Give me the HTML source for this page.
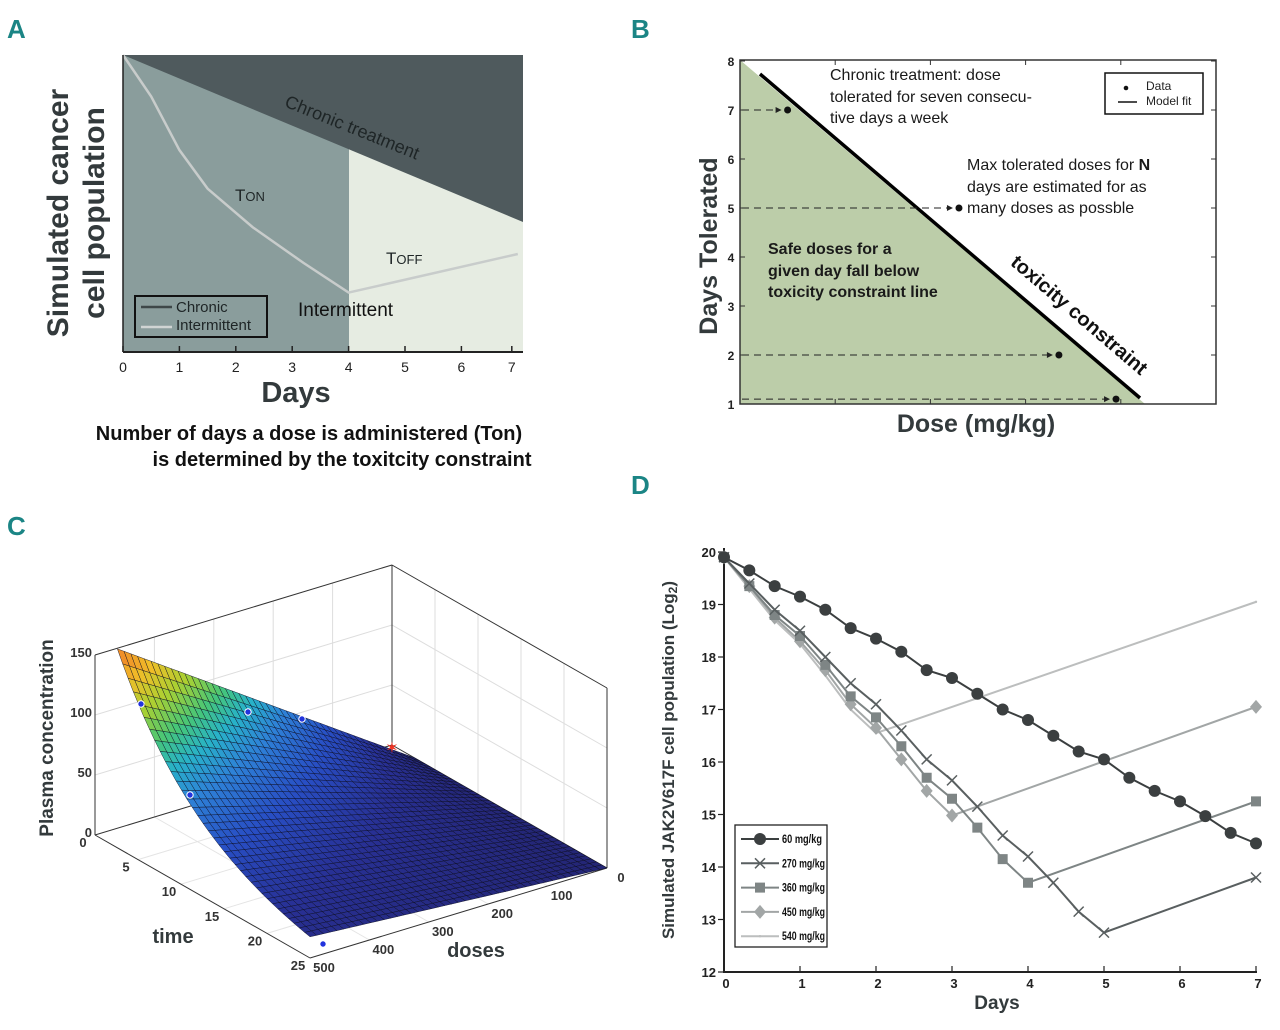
<!DOCTYPE html>
<html><head><meta charset="utf-8"><style>
html,body{margin:0;padding:0;background:#fff;}
svg{display:block;font-family:"Liberation Sans",sans-serif;}
.pl{font-family:"Liberation Sans Narrow","Liberation Sans",sans-serif;font-weight:bold;fill:#1b8585;font-size:26px;}
</style></head><body>
<svg id="fig" width="1280" height="1030" viewBox="0 0 1280 1030">
<text class="pl" x="7" y="38">A</text>
<text class="pl" x="631" y="38">B</text>
<text class="pl" x="7" y="535">C</text>
<text class="pl" x="631" y="494">D</text>

<!-- PANEL A -->
<g id="panelA">
  <rect x="123" y="55" width="400" height="297" fill="#8a9d9c"/>
  <rect x="349" y="55" width="174" height="297" fill="#e6ece2"/>
  <polygon points="123,55 523,55 523,222" fill="#4f5a5d"/>
  <polyline id="intermittentLine" fill="none" stroke="#c8cccb" stroke-width="2.5"/>
  <line x1="123" y1="352" x2="523" y2="352" stroke="#222" stroke-width="2"/>
  <line x1="123" y1="55" x2="123" y2="352" stroke="#222" stroke-width="1.5"/>
  <g id="aTicks"></g>
  <text transform="translate(350,133) rotate(22)" text-anchor="middle" font-size="18" fill="#1e2526">Chronic treatment</text>
  <text x="235" y="201" font-size="17" fill="#1e2526">T<tspan font-size="13">ON</tspan></text>
  <text x="386" y="264" font-size="17" fill="#1e2526">T<tspan font-size="13">OFF</tspan></text>
  <text x="298" y="316" font-size="19" fill="#111">Intermittent</text>
  <rect x="135" y="296" width="132" height="41" fill="none" stroke="#111" stroke-width="2"/>
  <line x1="141" y1="307" x2="172" y2="307" stroke="#3e4748" stroke-width="2.5"/>
  <text x="176" y="312" font-size="15" fill="#1e2526">Chronic</text>
  <line x1="141" y1="327" x2="172" y2="327" stroke="#d0d4d3" stroke-width="2.5"/>
  <text x="176" y="330" font-size="15" fill="#1e2526">Intermittent</text>
  <text transform="translate(68,213) rotate(-90)" text-anchor="middle" font-size="30" font-weight="bold" fill="#333a3c">Simulated cancer</text>
  <text transform="translate(104,213) rotate(-90)" text-anchor="middle" font-size="30" font-weight="bold" fill="#333a3c">cell population</text>
  <text x="296" y="402" text-anchor="middle" font-size="29" font-weight="bold" fill="#333a3c">Days</text>
  <text x="309" y="440" text-anchor="middle" font-size="20" font-weight="bold" fill="#111">Number of days a dose is administered (Ton)</text>
  <text x="342" y="466" text-anchor="middle" font-size="20" font-weight="bold" fill="#111">is determined by the toxitcity constraint</text>
</g>

<!-- PANEL B -->
<g id="panelB">
  <polygon points="740,60 740,404 1145,404" fill="#bccda9"/>
  <rect x="740" y="60" width="476" height="344" fill="none" stroke="#333" stroke-width="1.5"/>
  <g id="bTicks"></g>
  <line x1="760" y1="74" x2="1140" y2="398" stroke="#000" stroke-width="3.5"/>
  <g id="bPoints"></g>
  <rect x="1105" y="73" width="98" height="41" fill="#fff" stroke="#111" stroke-width="1.5"/>
  <circle cx="1126" cy="88" r="2.3" fill="#111"/>
  <text x="1146" y="90" font-size="12" fill="#222">Data</text>
  <line x1="1118" y1="102" x2="1137" y2="102" stroke="#111" stroke-width="1.5"/>
  <text x="1146" y="105" font-size="12" fill="#222">Model fit</text>
  <g font-size="16" fill="#1a1a1a">
    <text x="830" y="80">Chronic treatment: dose</text>
    <text x="830" y="102">tolerated for seven consecu-</text>
    <text x="830" y="123">tive days a week</text>
  </g>
  <g font-size="16" fill="#1a1a1a">
    <text x="967" y="170">Max tolerated doses for <tspan font-weight="bold">N</tspan></text>
    <text x="967" y="192">days are estimated for as</text>
    <text x="967" y="213">many doses as possble</text>
  </g>
  <g font-size="16" font-weight="bold" fill="#1a1a1a">
    <text x="768" y="254">Safe doses for a</text>
    <text x="768" y="276">given day fall below</text>
    <text x="768" y="297">toxicity constraint line</text>
  </g>
  <text transform="translate(1075,320) rotate(40.5)" text-anchor="middle" font-size="20" font-weight="bold" fill="#111">toxicity constraint</text>
  <text transform="translate(717,246) rotate(-90)" text-anchor="middle" font-size="25" font-weight="bold" fill="#333a3c">Days Tolerated</text>
  <text x="976" y="432" text-anchor="middle" font-size="25" font-weight="bold" fill="#333a3c">Dose (mg/kg)</text>
</g>

<!-- PANEL C -->
<g id="panelC">
  <g id="cBox" stroke="#333" stroke-width="1" fill="none"></g>
  <g id="cSurface"></g>
  <g id="cMarks"></g>
  <g id="cTicks" font-size="13" font-weight="bold" fill="#333"></g>
  <text transform="translate(53,738) rotate(-90)" text-anchor="middle" font-size="19" font-weight="bold" fill="#333a3c">Plasma concentration</text>
  <text x="173" y="943" text-anchor="middle" font-size="20" font-weight="bold" fill="#333a3c">time</text>
  <text x="476" y="957" text-anchor="middle" font-size="20" font-weight="bold" fill="#333a3c">doses</text>
</g>

<!-- PANEL D -->
<g id="panelD">
  <g id="dAxes"></g>
  <g id="dSeries"></g>
  <g id="dLegend"></g>
  <text transform="translate(674,760) rotate(-90)" text-anchor="middle" font-size="17" font-weight="bold" fill="#333a3c">Simulated JAK2V617F cell population (Log<tspan font-size="12" dy="3">2</tspan><tspan dy="-3">)</tspan></text>
  <text x="997" y="1009" text-anchor="middle" font-size="19" font-weight="bold" fill="#333a3c">Days</text>
</g>
</svg>
<script>
const NS='http://www.w3.org/2000/svg';
function mk(tag,attrs,parent){const e=document.createElementNS(NS,tag);for(const k in attrs)e.setAttribute(k,attrs[k]);if(parent)parent.appendChild(e);return e;}

/* ---------- Panel A data ---------- */
const aDays=[0,0.5,1,1.5,2.3,3.2,4,7];
const aIntermittent=[100,86,68,55,42,30,20,33];
const aTickLabels=['0','1','2','3','4','5','6','7'];
function axA(d){return 123+d*56.4;}
function ayA(v){return 352-v*2.97;}
(function(){
  const pts=aDays.map((d,i)=>axA(d)+','+ayA(aIntermittent[i])).join(' ');
  document.getElementById('intermittentLine').setAttribute('points',pts);
  const g=document.getElementById('aTicks');
  aTickLabels.forEach((t,i)=>{
    const x=axA(i)-(i==7?6:0);
    const l=mk('line',{x1:x,y1:352,x2:x,y2:346,stroke:'#222','stroke-width':1.5},g);
    
    
    const tx=mk('text',{x:x,y:372,'text-anchor':'middle','font-size':14,fill:'#222'},g);
    tx.textContent=t;
    
    
  });
})();

/* ---------- Panel B data ---------- */
const bYTicks=[1,2,3,4,5,6,7,8];
const bPointDays=[7,5,2,1.1];
const bPointDose=[0.1,0.46,0.67,0.79];
function byB(v){return 404-(v-1)*49;}
function bxB(f){return 740+f*476;}
(function(){
  const g=document.getElementById('bTicks');
  bYTicks.forEach(v=>{
    const y=byB(v);
    const t=mk('text',{x:731,y:y+5,'text-anchor':'middle','font-size':12,'font-weight':'bold',fill:'#222'},g);
    t.textContent=v;
    
    
    const l1=mk('line',{x1:740,y1:y,x2:745,y2:y,stroke:'#333'},g);
    
    
    const l2=mk('line',{x1:1211,y1:y,x2:1216,y2:y,stroke:'#333'},g);
    
    
  });
  [0.2,0.4,0.6,0.8].forEach(f=>{
    const x=bxB(f);
    const l=mk('line',{x1:x,y1:404,x2:x,y2:399,stroke:'#333'},g);
    
    
    const l2=mk('line',{x1:x,y1:60,x2:x,y2:65,stroke:'#333'},g);
    
    
  });
  const p=document.getElementById('bPoints');
  bPointDays.forEach((d,i)=>{
    const x=bxB(bPointDose[i]),y=byB(d);
    const l=mk('line',{x1:742,y1:y,x2:x-8,y2:y,stroke:'#222','stroke-width':1,'stroke-dasharray':'7,5'},p);
    
    
    const a=mk('polygon',{points:(x-6)+','+y+' '+(x-12)+','+(y-3)+' '+(x-12)+','+(y+3),fill:'#222'},p);
    
    
    const c=mk('circle',{cx:x,cy:y,r:3.5,fill:'#111'},p);
    
    
  });
})();

/* ---------- Panel C data ---------- */
const cZTicks=[0,50,100,150];
const cTimeTicks=[0,5,10,15,20,25];
const cDoseTicks=[0,100,200,300,400,500];
const cPeak=[215];
const cDecay=[0.1];
function projC(t,d,z){return [95+t*8.6+(500-d)*0.594, 835+t*4.92-(500-d)*0.18-z*1.2];}
function concC(t,d){return cPeak[0]*Math.exp(-cDecay[0]*t)*d/500;}
const parula=[[0,[36,38,118]],[0.15,[40,48,148]],[0.3,[40,78,196]],[0.45,[46,130,215]],[0.56,[40,178,200]],[0.66,[70,198,120]],[0.78,[170,208,50]],[0.9,[240,190,40]],[1,[240,140,40]]];
function colC(z){let f=Math.max(0,Math.min(1,z/160));for(let i=1;i<parula.length;i++){if(f<=parula[i][0]){const a=parula[i-1],b=parula[i];const u=(f-a[0])/(b[0]-a[0]);const c=a[1].map((v,k)=>Math.round(v+(b[1][k]-v)*u));return 'rgb('+c.join(',')+')';}}return 'rgb(240,140,40)';}
(function(){
  const box=document.getElementById('cBox');
  const P=(t,d,z)=>projC(t,d,z).join(',');
  [50,100].forEach(z=>{
    const a=mk('polyline',{points:P(0,500,z)+' '+P(0,0,z)+' '+P(25,0,z),stroke:'#ddd'},box);
    
  });
  [5,10,15,20].forEach(t=>{
    const a=mk('polyline',{points:P(t,0,0)+' '+P(t,0,150)+' ',stroke:'#ddd'},box);
    
    const b=mk('polyline',{points:P(t,500,0)+' '+P(t,0,0),stroke:'#e4e4e4'},box);
    
  });
  [100,200,300,400].forEach(d=>{
    const a=mk('polyline',{points:P(0,d,0)+' '+P(0,d,150),stroke:'#ddd'},box);
    
    const b=mk('polyline',{points:P(0,d,0)+' '+P(25,d,0),stroke:'#e4e4e4'},box);
    
  });
  const edges=[[P(0,500,0),P(0,500,150)],[P(0,500,150),P(0,0,150)],[P(0,0,150),P(25,0,150)],[P(25,0,150),P(25,0,0)],[P(0,0,0),P(0,0,150)],[P(0,500,0),P(0,0,0)],[P(0,0,0),P(25,0,0)],[P(0,500,0),P(25,500,0)],[P(25,500,0),P(25,0,0)]];
  edges.forEach(e=>{const l=mk('polyline',{points:e.join(' ')},box);});
  const s=document.getElementById('cSurface');
  const NT=36,ND=44,t0=2.6;
  const quads=[];
  for(let i=0;i<NT;i++)for(let j=0;j<ND;j++){
    const ta=t0+(25-t0)*i/NT,tb=t0+(25-t0)*(i+1)/NT,da=500*j/ND,db=500*(j+1)/ND;
    quads.push({i,j,ta,tb,da,db,depth:i+(ND-j)*0.5});
  }
  quads.sort((a,b)=>a.depth-b.depth);
  quads.forEach(q=>{
    const pts=[[q.ta,q.da],[q.tb,q.da],[q.tb,q.db],[q.ta,q.db]].map(p=>projC(p[0],p[1],concC(p[0],p[1])).map(v=>v.toFixed(1)).join(','));
    const zc=concC((q.ta+q.tb)/2,(q.da+q.db)/2);
    const poly=mk('polygon',{points:pts.join(' '),fill:colC(zc),stroke:'#0a0c20','stroke-width':0.5,'stroke-opacity':0.85},s);
    
    
  });
  const m=document.getElementById('cMarks');
  [[141,704],[248,712],[302,719],[190,795],[323,944]].forEach(p=>{
    const c=mk('circle',{cx:p[0],cy:p[1],r:3.2,fill:'#2233dd',stroke:'#fff','stroke-width':1},m);
    
  });
  const st=mk('text',{x:392,y:753,'text-anchor':'middle','font-size':16,fill:'#ee3322'},m);
  st.textContent='✶';
  const g=document.getElementById('cTicks');
  cZTicks.forEach(z=>{const p=projC(0,500,z);const t=mk('text',{x:p[0]-3,y:p[1]+2,'text-anchor':'end'},g);t.textContent=z;});
  cTimeTicks.forEach(tv=>{const p=projC(tv,500,0);const t=mk('text',{x:p[0]-12,y:p[1]+12,'text-anchor':'middle'},g);t.textContent=tv;});
  cDoseTicks.forEach(dv=>{const p=projC(25,dv,0);const t=mk('text',{x:p[0]+14,y:p[1]+14,'text-anchor':'middle'},g);t.textContent=dv;});
})();

/* ---------- Panel D data ---------- */
const dDays=[0,1/3,2/3,1,4/3,5/3,2,7/3,8/3,3,10/3,11/3,4,13/3,14/3,5,16/3,17/3,6,19/3,20/3,7];
const d60=[19.9,19.65,19.35,19.15,18.9,18.55,18.35,18.1,17.75,17.6,17.3,17.0,16.8,16.5,16.2,16.05,15.7,15.45,15.25,14.97,14.65,14.45];
const d270Days=[0,1/3,2/3,1,4/3,5/3,2,7/3,8/3,3,10/3,11/3,4,13/3,14/3,5,7];
const d270=[19.9,19.4,18.9,18.5,18.0,17.5,17.1,16.6,16.05,15.65,15.15,14.6,14.2,13.7,13.15,12.75,13.8];
const d360Days=[0,1/3,2/3,1,4/3,5/3,2,7/3,8/3,3,10/3,11/3,4,7];
const d360=[19.9,19.35,18.8,18.4,17.85,17.25,16.85,16.3,15.7,15.3,14.75,14.15,13.7,15.25];
const d450Days=[0,1/3,2/3,1,4/3,5/3,2,7/3,8/3,3,7];
const d450=[19.9,19.35,18.75,18.3,17.75,17.1,16.65,16.05,15.45,14.98,17.05];
const d540Days=[0,1/3,2/3,1,4/3,5/3,2,7];
const d540=[19.9,19.3,18.7,18.25,17.65,17.0,16.55,19.05];
const dSeriesNames=['60 mg/kg','270 mg/kg','360 mg/kg','450 mg/kg','540 mg/kg'];
const dYTicks=[12,13,14,15,16,17,18,19,20];
const dXTicks=[0,1,2,3,4,5,6,7];
function dx(d){return 724+d*76;}
function dy(v){return 972-(v-12)*52.5;}
(function(){
  const ax=document.getElementById('dAxes');
  let l=mk('line',{x1:724,y1:548,x2:724,y2:972,stroke:'#222','stroke-width':2},ax);
  
  l=mk('line',{x1:723,y1:972,x2:1257,y2:972,stroke:'#222','stroke-width':2},ax);
  
  dYTicks.forEach(v=>{const y=dy(v);
    const tk=mk('line',{x1:718,y1:y,x2:724,y2:y,stroke:'#222','stroke-width':1.2},ax);
    
    const t=mk('text',{x:716,y:y+5,'text-anchor':'end','font-size':13,'font-weight':'bold',fill:'#222'},ax);
    t.textContent=v;});
  dXTicks.forEach(v=>{const x=dx(v);
    const tk=mk('line',{x1:x,y1:972,x2:x,y2:966,stroke:'#222','stroke-width':1.2},ax);
    
    const t=mk('text',{x:x+2,y:988,'text-anchor':'middle','font-size':13,'font-weight':'bold',fill:'#222'},ax);
    t.textContent=v;});

  const S=document.getElementById('dSeries');
  const series=[
    {x:d540Days,y:d540,c:'#bcbebe',m:'dot',name:'series-540'},
    {x:d450Days,y:d450,c:'#a2a6a6',m:'diamond',name:'series-450'},
    {x:d360Days,y:d360,c:'#7e8585',m:'square',name:'series-360'},
    {x:d270Days,y:d270,c:'#595f60',m:'x',name:'series-270'},
    {x:dDays,y:d60,c:'#3b3f40',m:'circle',name:'series-60'}];
  function marker(g,type,x,y,c){
    let e;
    if(type=='circle')e=mk('circle',{cx:x,cy:y,r:6,fill:c},g);
    else if(type=='square')e=mk('rect',{x:x-5,y:y-5,width:10,height:10,fill:c},g);
    else if(type=='diamond')e=mk('polygon',{points:`${x},${y-7} ${x+6},${y} ${x},${y+7} ${x-6},${y}`,fill:c},g);
    else if(type=='x')e=mk('path',{d:`M${x-5},${y-5}L${x+5},${y+5}M${x-5},${y+5}L${x+5},${y-5}`,stroke:c,'stroke-width':1.5},g);
    else e=mk('circle',{cx:x,cy:y,r:1.2,fill:c},g);
    
    
  }
  series.forEach(s=>{
    const g=mk('g',{},S);
    
    
    const pl=mk('polyline',{points:s.x.map((d,i)=>dx(d)+','+dy(s.y[i])).join(' '),fill:'none',stroke:s.c,'stroke-width':2},g);
    
    
    s.x.forEach((d,i)=>marker(g,s.m,dx(d),dy(s.y[i]),s.c));
  });
  const L=document.getElementById('dLegend');
  const r=mk('rect',{x:735,y:825,width:92,height:122,fill:'#fff',stroke:'#222','stroke-width':1.3},L);
  
  const lg=[['circle','#3b3f40'],['x','#595f60'],['square','#7e8585'],['diamond','#a2a6a6'],['dot','#bcbebe']];
  dSeriesNames.forEach((n,i)=>{
    const y=839+i*24.3;
    const g=mk('g',{},L);
    
    
    mk('line',{x1:741,y1:y,x2:779,y2:y,stroke:lg[i][1],'stroke-width':2},g);
    marker(g,lg[i][0],760,y,lg[i][1]);
    const t=mk('text',{x:782,y:y+4,'font-size':12,'font-weight':'bold',fill:'#111',textLength:n.length>8?43:40,lengthAdjust:'spacingAndGlyphs'},g);
    t.textContent=n;
    
    
  });
})();
</script>
</body></html>
